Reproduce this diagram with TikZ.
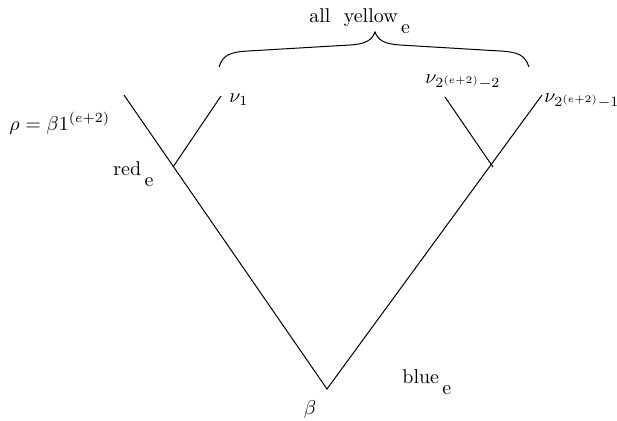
\documentclass[tikz,border=0pt]{standalone}
\usetikzlibrary{positioning}
\newcommand{\lowsub}[2]{#1\,\raisebox{-5.5pt}{#2}}

\begin{document}
\begin{tikzpicture}[
  x=0.5pt,y=-0.5pt,
  edge/.style={line width=0.5pt},
  lbl/.style={inner sep=0pt}
]
  \useasboundingbox (0,0) rectangle (617,420);
  % tree points
  \coordinate (root) at (327,389);
  \coordinate (lefttop) at (124,95);
  \coordinate (righttop) at (542,95);
  \coordinate (redpt) at (173,167);
  \coordinate (bluept) at (493,167);
  \coordinate (nuone) at (221,96);
  \coordinate (nutwo) at (445,97);
  % brace points
  \coordinate (braceL) at (219,67);
  \coordinate (braceT) at (375,32);
  \coordinate (braceR) at (529,67);

  \draw[edge] (lefttop) -- (root) -- (righttop);
  \draw[edge] (redpt) -- (nuone);
  \draw[edge] (bluept) -- (nutwo);
  \draw[edge] (braceL) .. controls (223,55) and (230,52) .. (248,51) -- (350,45)
    .. controls (366,44) and (372,40) .. (braceT)
    .. controls (378,40) and (384,44) .. (400,45) -- (500,51)
    .. controls (518,52) and (525,55) .. (braceR);

  % labels
  \node[lbl,anchor=base west] (rho) at (9,130) {$\rho=\beta 1^{(e+2)}$};
  \node[lbl,anchor=base west] (red) at (113,175) {\lowsub{red}{e}};
  \node[lbl,anchor=base west] (blue) at (402,383) {\lowsub{blue}{e}};
  \node[lbl,anchor=base west] (yellow) at (309,22) {all~~\lowsub{yellow}{e}};
  \node[lbl,anchor=base west] (nu1) at (229,102) {$\nu_1$};
  \node[lbl,anchor=base west] (nu2) at (425,83) {$\nu_{2^{(e+2)}-2}$};
  \node[lbl,anchor=base west] (nu3) at (544,102) {$\nu_{2^{(e+2)}-1}$};
  \node[lbl,anchor=base] (beta) at (310,414) {$\beta$};
\end{tikzpicture}
\end{document}
